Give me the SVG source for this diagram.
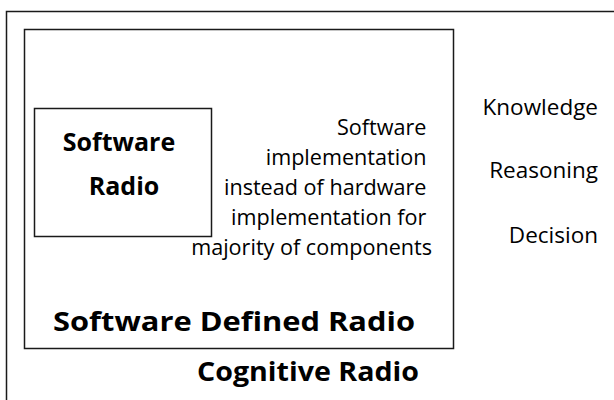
<svg xmlns="http://www.w3.org/2000/svg" width="614" height="400" viewBox="0 0 614 400">
  <style>
    .frame { fill: none; stroke: #1a1a1a; stroke-width: 1.5; }
    .t { font-family: "Open Sans", "Liberation Sans", sans-serif; fill: #000; }
    .body { font-size: 21.6px; text-anchor: end; }
    .side { font-size: 22.5px; text-anchor: end; }
    .title { font-weight: bold; text-anchor: middle; }
  </style>
  <rect width="614" height="400" fill="#fff"/>

  <!-- Cognitive Radio: outer frame running off the right and bottom edges -->
  <g id="cognitive-radio">
    <rect class="frame" x="6.5" y="11.5" width="640" height="420"/>
    <text class="t title" x="308" y="381" font-size="27" textLength="222" lengthAdjust="spacingAndGlyphs">Cognitive Radio</text>
    <text class="t side" x="598" y="115">Knowledge</text>
    <text class="t side" x="598" y="178">Reasoning</text>
    <text class="t side" x="598" y="243">Decision</text>
  </g>

  <!-- Software Defined Radio -->
  <g id="software-defined-radio">
    <rect class="frame" x="24.5" y="29.5" width="429" height="319"/>
    <text class="t title" x="234" y="331" font-size="27" textLength="362" lengthAdjust="spacingAndGlyphs">Software Defined Radio</text>
    <text class="t body">
      <tspan x="432" y="135">Software</tspan>
      <tspan x="432" y="165">implementation</tspan>
      <tspan x="432" y="195">instead of hardware</tspan>
      <tspan x="432" y="225">implementation for</tspan>
      <tspan x="432" y="255">majority of components</tspan>
    </text>
  </g>

  <!-- Software Radio -->
  <g id="software-radio">
    <rect class="frame" x="34.5" y="108.5" width="177" height="128"/>
    <text class="t title" x="119" y="151" font-size="25">Software</text>
    <text class="t title" x="124" y="195" font-size="25">Radio</text>
  </g>
</svg>
